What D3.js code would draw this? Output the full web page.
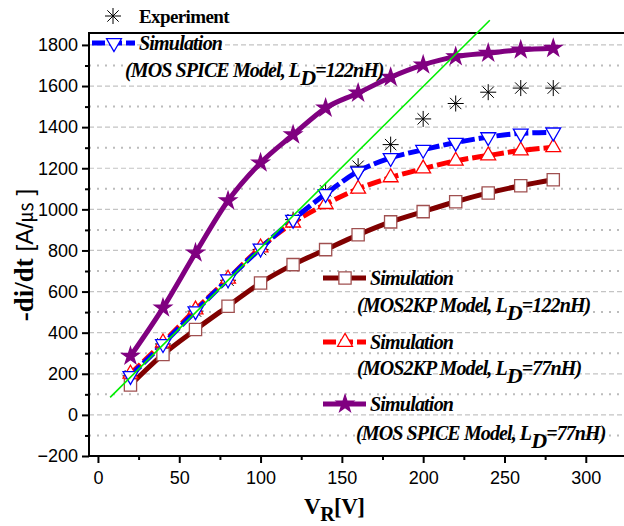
<!DOCTYPE html>
<html>
<head>
<meta charset="utf-8">
<script src="https://cdn.jsdelivr.net/npm/d3@7"></script>
<style>
body { margin: 0; background: #fff; }
svg { display: block; }
</style>
</head>
<body>
<div id="chart"></div>
<script>
'use strict';

// values
var voltages   = [20, 40, 60, 80, 100, 120, 140, 160, 180, 200, 220, 240, 260, 280];
var experiment = [190, 345, 505, 655, 805, 950, 1090, 1210, 1315, 1440, 1515, 1570, 1590, 1590];
var spice122   = [190, 345, 505, 660, 810, 950, 1075, 1185, 1250, 1290, 1325, 1352, 1370, 1375];
var mos2kp77   = [200, 352, 512, 662, 814, 935, 1025, 1100, 1155, 1198, 1236, 1262, 1286, 1302];
var mos2kp122  = [145, 294, 415, 529, 642, 731, 804, 876, 939, 989, 1037, 1080, 1115, 1144];
var spice77    = [286, 521, 788, 1042, 1226, 1363, 1493, 1566, 1643, 1703, 1743, 1760, 1776, 1784];
var fitVolt    = [7.5, 241];
var fitSlope   = [85, 1920];
var xTicks     = [0, 50, 100, 150, 200, 250, 300];
var xMinor     = [25, 75, 125, 175, 225, 275];
var yTicks     = [-200, 0, 200, 400, 600, 800, 1000, 1200, 1400, 1600, 1800];
var yMinor     = [-100, 100, 300, 500, 700, 900, 1100, 1300, 1500, 1700];

var chart = {};
chart.width = 624;
chart.height = 526;
chart.left = 89; chart.right = 624; chart.top = 33; chart.bottom = 456;

chart.x = d3.scaleLinear().domain([-5.5, 323.5]).range([chart.left, chart.right]);
chart.y = d3.scaleLinear().domain([-200, 1858]).range([chart.bottom, chart.top]);

var svg = d3.select('#chart').append('svg')
    .attr('width', chart.width)
    .attr('height', chart.height);

// grid lines
svg.append('g').selectAll('line').data(yTicks.filter(function(d){ return d > -200; }))
  .enter().append('line')
    .attr('x1', chart.left).attr('x2', chart.right)
    .attr('y1', function(d){ return chart.y(d); }).attr('y2', function(d){ return chart.y(d); })
    .attr('stroke', '#c4c4c4').attr('stroke-width', 1.2).attr('stroke-dasharray', '5,3');
svg.append('g').selectAll('line').data(yMinor)
  .enter().append('line')
    .attr('x1', chart.left).attr('x2', chart.right)
    .attr('y1', function(d){ return chart.y(d); }).attr('y2', function(d){ return chart.y(d); })
    .attr('stroke', '#bcbcbc').attr('stroke-width', 2).attr('stroke-dasharray', '2,6');

// axes
var yAxis = d3.axisLeft(chart.y).tickValues(yTicks).tickSize(7).tickPadding(4).tickFormat(d3.format('d'));
var yAxisMinor = d3.axisLeft(chart.y).tickValues(yMinor).tickSize(4).tickFormat('');
var xAxis = d3.axisBottom(chart.x).tickValues(xTicks).tickSize(7).tickPadding(8).tickFormat(d3.format('d'));
var xAxisMinor = d3.axisBottom(chart.x).tickValues(xMinor).tickSize(4).tickFormat('');

function styleAxis(g) {
  g.select('.domain').remove();
  g.selectAll('line').attr('stroke', '#000').attr('stroke-width', 2);
  g.selectAll('text').attr('font-family', 'Liberation Sans, Arial, sans-serif')
    .attr('font-size', 18).attr('fill', '#000');
}

svg.append('g').attr('transform', 'translate(' + chart.left + ',0)').call(yAxis).call(styleAxis);
svg.append('g').attr('transform', 'translate(' + chart.left + ',0)').call(yAxisMinor).call(styleAxis);
svg.append('g').attr('transform', 'translate(0,' + chart.bottom + ')').call(xAxis).call(styleAxis);
svg.append('g').attr('transform', 'translate(0,' + chart.bottom + ')').call(xAxisMinor).call(styleAxis);

// frame: left, bottom and top border
svg.append('path')
  .attr('d', 'M' + chart.right + ',' + chart.top + 'H' + chart.left + 'V' + chart.bottom + 'H' + chart.right)
  .attr('fill', 'none').attr('stroke', '#000').attr('stroke-width', 2);

// marker shapes
var asteriskPath = function(r) {
  var d = r * Math.SQRT1_2;
  return 'M0,' + (-r) + 'V' + r + 'M' + (-r) + ',0H' + r +
         'M' + (-d) + ',' + (-d) + 'L' + d + ',' + d + 'M' + (-d) + ',' + d + 'L' + d + ',' + (-d);
};

var series = [
  {key: 'mos2kp122', values: mos2kp122, line: '#800000', dash: null, stroke: '#a05050',
   symbol: d3.symbolSquare, size: 150, rotate: 0, filled: false},
  {key: 'mos2kp77', values: mos2kp77, line: '#ff0000', dash: '14,4', stroke: '#ff0000',
   symbol: d3.symbolTriangle, size: 95, rotate: 0, filled: false},
  {key: 'spice122', values: spice122, line: '#0000ff', dash: '14,4', stroke: '#0000ff',
   symbol: d3.symbolTriangle, size: 95, rotate: 180, filled: false},
  {key: 'spice77', values: spice77, line: '#800080', dash: null, stroke: '#800080',
   symbol: d3.symbolStar, size: 90, rotate: 0, filled: true}
];

var line = d3.line()
  .x(function(d, i){ return chart.x(voltages[i]); })
  .y(function(d){ return chart.y(d); })
  .curve(d3.curveMonotoneX);

// experiment asterisks
svg.append('g').selectAll('path').data(experiment)
  .enter().append('path')
    .attr('transform', function(d, i){ return 'translate(' + chart.x(voltages[i]) + ',' + chart.y(d) + ')'; })
    .attr('d', asteriskPath(8))
    .attr('stroke', '#000').attr('stroke-width', 1).attr('fill', 'none');

series.forEach(function(s){
  svg.append('path').datum(s.values)
    .attr('d', line)
    .attr('fill', 'none')
    .attr('stroke', s.line)
    .attr('stroke-width', 5)
    .attr('stroke-dasharray', s.dash);
});

series.forEach(function(s){
  svg.append('g').selectAll('path').data(s.values)
    .enter().append('path')
      .attr('transform', function(d, i){
        return 'translate(' + chart.x(voltages[i]) + ',' + chart.y(d) + ') rotate(' + s.rotate + ')';
      })
      .attr('d', d3.symbol().type(s.symbol).size(s.size))
      .attr('fill', s.filled ? s.line : '#fff')
      .attr('stroke', s.stroke)
      .attr('stroke-width', 1.3);
});

// fitted straight line
svg.append('line')
  .attr('x1', chart.x(fitVolt[0])).attr('y1', chart.y(fitSlope[0]))
  .attr('x2', chart.x(fitVolt[1])).attr('y2', chart.y(fitSlope[1]))
  .attr('stroke', '#00ee00').attr('stroke-width', 1.6);

// legend
var serif = 'Liberation Serif, Times New Roman, serif';
var legendItems = [
  {s: series[2], lx: 92, ly: 43, tx: 139, ty: 50, model: '(MOS SPICE Model, L', ld: '=122nH)', mx: 125, my: 77},
  {s: series[0], lx: 323, ly: 278, tx: 370, ty: 285, model: '(MOS2KP Model, L', ld: '=122nH)', mx: 357, my: 312},
  {s: series[1], lx: 323, ly: 342, tx: 370, ty: 349, model: '(MOS2KP Model, L', ld: '=77nH)', mx: 357, my: 375},
  {s: series[3], lx: 323, ly: 404, tx: 370, ty: 411, model: '(MOS SPICE Model, L', ld: '=77nH)', mx: 356, my: 440}
];

legendItems.forEach(function(it){
  var g = svg.append('g');
  g.append('line').attr('x1', it.lx).attr('x2', it.lx + 43)
    .attr('y1', it.ly).attr('y2', it.ly)
    .attr('stroke', it.s.line).attr('stroke-width', 5)
    .attr('stroke-dasharray', it.s.dash ? '13,4' : null);
  g.append('path')
    .attr('transform', 'translate(' + (it.lx + 22) + ',' + it.ly + ') rotate(' + it.s.rotate + ')')
    .attr('d', d3.symbol().type(it.s.symbol).size(it.s.size))
    .attr('fill', it.s.filled ? it.s.line : '#fff')
    .attr('stroke', it.s.stroke).attr('stroke-width', 1.3);
  g.append('text').attr('x', it.tx).attr('y', it.ty)
    .attr('font-family', serif).attr('font-size', 20).attr('font-weight', 'bold')
    .attr('font-style', 'italic').attr('letter-spacing', -0.8)
    .text('Simulation');
  var t = g.append('text').attr('x', it.mx).attr('y', it.my)
    .attr('font-family', serif).attr('font-size', 20).attr('font-weight', 'bold')
    .attr('font-style', 'italic').attr('letter-spacing', -0.9);
  t.append('tspan').text(it.model);
  t.append('tspan').attr('dy', 8).attr('font-size', 22).text('D');
  t.append('tspan').attr('dy', -8).text(it.ld);
});

svg.append('path')
  .attr('transform', 'translate(113,16)')
  .attr('d', asteriskPath(8))
  .attr('stroke', '#000').attr('stroke-width', 1).attr('fill', 'none');
svg.append('text').attr('x', 139).attr('y', 23)
  .attr('font-family', serif).attr('font-size', 19).attr('font-weight', 'bold')
  .attr('letter-spacing', -0.6)
  .text('Experiment');

// axis titles
var xt = svg.append('text').attr('y', 514)
  .attr('font-family', serif).attr('font-weight', 'bold').attr('font-size', 23).attr('letter-spacing', -0.5);
xt.append('tspan').attr('x', 304).text('V');
xt.append('tspan').attr('dy', 7).attr('font-size', 20).text('R');
xt.append('tspan').attr('dy', -7).text('[V]');

var yt = svg.append('text').attr('transform', 'translate(33,255) rotate(-90)')
  .attr('text-anchor', 'middle');
yt.append('tspan').attr('font-family', serif).attr('font-weight', 'bold').attr('font-size', 27).text('-di/dt ');
yt.append('tspan').attr('font-family', 'Liberation Sans, Arial, sans-serif').attr('font-size', 24).text('[A/');
yt.append('tspan').attr('font-family', 'Noto Sans CJK KR').attr('font-size', 20).text('\u33B2');
yt.append('tspan').attr('font-family', 'Liberation Sans, Arial, sans-serif').attr('font-size', 24).text(' ]');
</script>
</body>
</html>
